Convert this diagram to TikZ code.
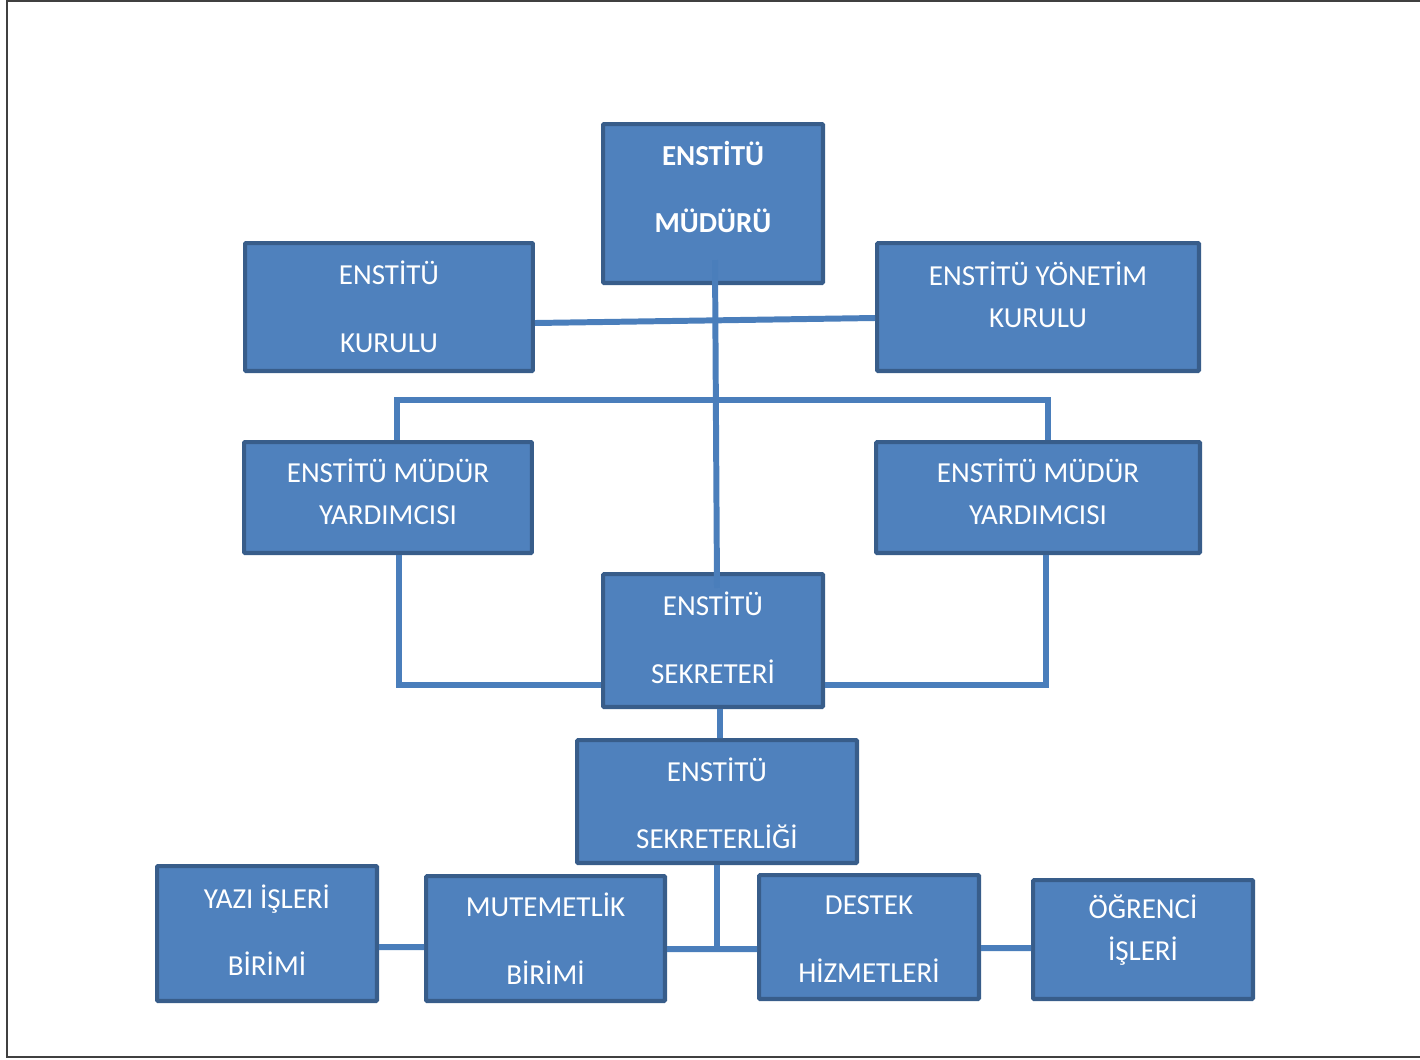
\documentclass[tikz,border=0pt]{standalone}
\usepackage{fontspec}
\setmainfont{Carlito}
\usepackage{xcolor}
\usepackage{tikz}
\usetikzlibrary{shapes.geometric, arrows}
\definecolor{boxfill}{HTML}{4F81BD}
\definecolor{boxedge}{HTML}{385D8A}
\definecolor{linkblue}{HTML}{4A7EBB}
\definecolor{framegray}{HTML}{404040}
\tikzstyle{unit} = [rectangle, inner sep=0pt, fill=boxfill, draw=boxedge, line width=2.3pt, rounded corners=0.6pt]
\tikzstyle{txt} = [text=white, align=center, font=\fontsize{16.5}{23.8}\selectfont]
\tikzstyle{link} = [linkblue, line width=3.4pt]

\begin{document}
\begin{tikzpicture}[x=0.02cm, y=-0.02cm]
                        \useasboundingbox (0,0) rectangle (1420,1059);
                        \draw[framegray, line width=1.1pt] (1430,1) -- (7,1) -- (7,1057) -- (1430,1057);

                        \node (mudur) [unit, minimum width=4.4cm, minimum height=3.18cm, label={[txt, font=\fontsize{16.5}{23.8}\selectfont\bfseries, yshift=9.4pt]center:{ENSTİTÜ\\[14.7pt]MÜDÜRÜ}}] at (713,203.5) {};
                        \node (kurul) [unit, minimum width=5.76cm, minimum height=2.56cm, label={[txt]center:{ENSTİTÜ\\[14.7pt]KURULU}}] at (389,307) {};
                        \node (yonetim) [unit, minimum width=6.44cm, minimum height=2.56cm, label={[txt, yshift=7.1pt]center:{ENSTİTÜ YÖNETİM\\KURULU}}] at (1038,307) {};

                        \node (yardL) [unit, minimum width=5.76cm, minimum height=2.22cm, label={[txt, yshift=3.1pt]center:{ENSTİTÜ MÜDÜR\\YARDIMCISI}}] at (388,497.5) {};
                        \node (yardR) [unit, minimum width=6.48cm, minimum height=2.22cm, label={[txt, yshift=3.1pt]center:{ENSTİTÜ MÜDÜR\\YARDIMCISI}}] at (1038,497.5) {};

                        \node (sekreter) [unit, minimum width=4.4cm, minimum height=2.66cm, label={[txt, yshift=1.4pt]center:{ENSTİTÜ\\[14.7pt]SEKRETERİ}}] at (713,640.5) {};
                        \node (sekreterlik) [unit, minimum width=5.6cm, minimum height=2.46cm, label={[txt, yshift=-1.1pt]center:{ENSTİTÜ\\[14.7pt]SEKRETERLİĞİ}}] at (717,801.5) {};

                        \node (yazi) [unit, minimum width=4.4cm, minimum height=2.7cm, label={[txt, yshift=2pt]center:{YAZI İŞLERİ\\[14.7pt]BİRİMİ}}] at (267,933.5) {};
                        \node (mutemet) [unit, minimum width=4.78cm, minimum height=2.5cm, label={[txt]center:{MUTEMETLİK\\[14.7pt]BİRİMİ}}] at (545.5,938.5) {};
                        \node (destek) [unit, minimum width=4.4cm, minimum height=2.48cm, label={[txt, yshift=-1.1pt]center:{DESTEK\\[14.7pt]HİZMETLERİ}}] at (869,937) {};
                        \node (ogrenci) [unit, minimum width=4.4cm, minimum height=2.38cm, label={[txt, yshift=5.4pt]center:{ÖĞRENCİ\\İŞLERİ}}] at (1143,939.5) {};

                        \coordinate (bar) at (716,400);
                        \coordinate (alt) at (717,949);

                        \draw[link] ([xshift=0.04cm, yshift=0.5cm]mudur.south) -- ([xshift=0.08cm, yshift=-0.32cm]sekreter.north);
                        \draw[link] ([yshift=-0.32cm]kurul.east) -- ([yshift=-0.22cm]yonetim.west);
                        \draw[link] ([xshift=0.18cm]yardL.north) |- (bar) -| ([xshift=0.2cm]yardR.north);

                        \draw[link] ([xshift=0.22cm]yardL.south) |- ([yshift=-0.89cm]sekreter.west);
                        \draw[link] ([xshift=0.16cm]yardR.south) |- ([yshift=-0.89cm]sekreter.east);
                        \draw[link] ([xshift=0.14cm]sekreter.south) -- ([xshift=0.06cm]sekreterlik.north);

                        \draw[link] (sekreterlik.south) -- (alt);
                        \draw[link] ([yshift=-0.21cm]mutemet.east) -- ([yshift=-0.24cm]destek.west);
                        \draw[link] ([yshift=-0.27cm]yazi.east) -- ([yshift=-0.17cm]mutemet.west);
                        \draw[link] ([yshift=-0.22cm]destek.east) -- ([yshift=-0.17cm]ogrenci.west);

                    \end{tikzpicture}
\end{document}
